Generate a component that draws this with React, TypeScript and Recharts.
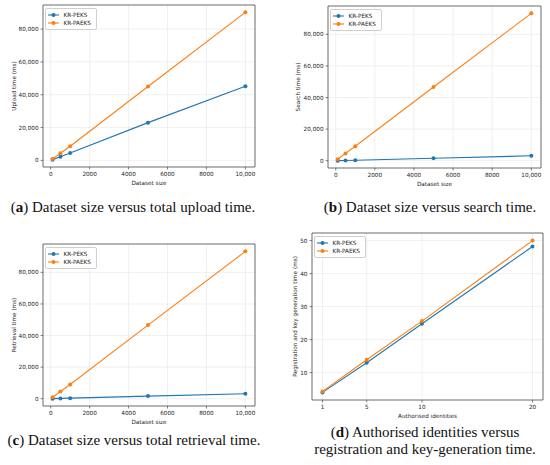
import React from 'react';
import { LineChart, Line, XAxis, YAxis, CartesianGrid, Legend, ReferenceArea } from 'recharts';

const datasetSizes = [100, 500, 1000, 5000, 10000];
const uploadPeks = [450, 2260, 4460, 23000, 45200];
const uploadPaeks = [900, 4300, 8600, 45000, 90200];
const searchPeks = [30, 150, 300, 1500, 3100];
const searchPaeks = [930, 4600, 9100, 46700, 93300];
const retrievalPeks = [40, 180, 350, 1650, 3150];
const retrievalPaeks = [930, 4600, 9000, 46600, 93300];
const identities = [1, 5, 10, 20];
const regPeks = [4.0, 13.0, 24.8, 48.2];
const regPaeks = [4.3, 13.9, 25.6, 50.0];

const seriesNames = ['KR-PEKS', 'KR-PAEKS'];

const sizeTicks = [0, 2000, 4000, 6000, 8000, 10000];
const sizeTickLabels = ['0', '2000', '4000', '6000', '8000', '10,000'];
const timeTicks = [0, 20000, 40000, 60000, 80000];
const timeTickLabels = ['0', '20,000', '40,000', '60,000', '80,000'];
const idTicks = [1, 5, 10, 20];
const idTickLabels = ['1', '5', '10', '20'];
const regTicks = [10, 20, 30, 40, 50];
const regTickLabels = ['10', '20', '30', '40', '50'];

const BLUE = '#1f77b4';
const ORANGE = '#ff7f0e';
const FONT = 'DejaVu Sans';
const FS = 5.7;

const pad = (vals: number[]): [number, number] => {
  const mn = Math.min(...vals);
  const mx = Math.max(...vals);
  const m = (mx - mn) * 0.05;
  return [mn - m, mx + m];
};

const LegendBox = (props: any) => {
  const payload = [...(props.payload || [])].sort(
    (a: any, b: any) => seriesNames.indexOf(a.value) - seriesNames.indexOf(b.value)
  );
  return (
    <div style={{ border: '0.7px solid #cfcfcf', borderRadius: 2, background: 'rgba(255,255,255,0.85)', padding: '1.5px 5px 1.5px 2px', fontFamily: FONT, fontSize: FS, lineHeight: '8.3px', color: '#222' }}>
      {payload.map((e: any) => (
        <div key={e.value} style={{ display: 'flex', alignItems: 'center', whiteSpace: 'nowrap' }}>
          <svg width={11} height={8} style={{ display: 'block' }}>
            <line x1={0} y1={4} x2={11} y2={4} stroke={e.color} strokeWidth={1.1} />
            <circle cx={5.5} cy={4} r={2} fill={e.color} />
          </svg>
          <span style={{ marginLeft: 5 }}>{e.value}</span>
        </div>
      ))}
    </div>
  );
};

type PanelProps = {
  frame: { l: number; r: number; t: number; b: number };
  xs: number[];
  s1: number[];
  s2: number[];
  xTicks: number[];
  xLabels: string[];
  yTicks: number[];
  yLabels: string[];
  xTitle: string;
  yTitle: string;
  yTitleOffset: number;
};

const Panel = ({ frame, xs, s1, s2, xTicks, xLabels, yTicks, yLabels, xTitle, yTitle, yTitleOffset }: PanelProps) => {
  const data = xs.map((x, i) => ({ x, peks: s1[i], paeks: s2[i] }));
  const xDom = pad(xs);
  const yDom = pad([...s1, ...s2]);
  const LM = 40, TM = 5, RM = 8, BM = 24, YW = 28, XH = 22;
  const w = frame.r - frame.l + LM + RM;
  const h = frame.b - frame.t + TM + BM;
  return (
    <div style={{ position: 'absolute', left: frame.l - LM, top: frame.t - TM, width: w, height: h }}>
      <LineChart width={w} height={h} data={data} margin={{ top: TM, right: RM, left: LM - YW, bottom: BM - XH }}>
        <CartesianGrid stroke="#e6e6e6" strokeWidth={0.6} />
        <XAxis
          dataKey="x"
          type="number"
          domain={xDom}
          allowDataOverflow
          ticks={xTicks}
          tickFormatter={(v: number, i: number) => xLabels[i]}
          height={XH}
          axisLine={false}
          tickLine={{ stroke: '#333', strokeWidth: 0.6 }}
          tickSize={2.5}
          tick={{ fontFamily: FONT, fontSize: FS, fill: '#222' }}
          interval={0}
          label={{ value: xTitle, position: 'insideBottom', offset: 4, style: { fontFamily: FONT, fontSize: FS, fill: '#222' } }}
        />
        <YAxis
          type="number"
          domain={yDom}
          allowDataOverflow
          ticks={yTicks}
          tickFormatter={(v: number, i: number) => yLabels[i]}
          width={YW}
          axisLine={false}
          tickLine={{ stroke: '#333', strokeWidth: 0.6 }}
          tickSize={2.5}
          tick={{ fontFamily: FONT, fontSize: FS, fill: '#222' }}
          interval={0}
          label={{ value: yTitle, angle: -90, position: 'insideLeft', offset: yTitleOffset, style: { fontFamily: FONT, fontSize: FS, fill: '#222', textAnchor: 'middle' } }}
        />
        <Legend layout="vertical" align="center" verticalAlign="middle" itemSorter={null as any} content={<LegendBox />} wrapperStyle={{ left: LM + 1.5, top: TM + 3, width: 'auto', height: 'auto' }} />
        <Line dataKey="peks" name={seriesNames[0]} stroke={BLUE} strokeWidth={1.1} dot={{ r: 2, fill: BLUE, stroke: BLUE, strokeWidth: 0 }} isAnimationActive={false} />
        <Line dataKey="paeks" name={seriesNames[1]} stroke={ORANGE} strokeWidth={1.1} dot={{ r: 2, fill: ORANGE, stroke: ORANGE, strokeWidth: 0 }} isAnimationActive={false} />
        <ReferenceArea x1={xDom[0]} x2={xDom[1]} y1={yDom[0]} y2={yDom[1]} fill="none" fillOpacity={0} stroke="#3a3a3a" strokeWidth={0.7} ifOverflow="visible" />
      </LineChart>
    </div>
  );
};

const capStyle: React.CSSProperties = {
  position: 'absolute',
  transform: 'translate(-50%, -50%)',
  whiteSpace: 'nowrap',
  fontFamily: 'Liberation Serif',
  fontSize: 15,
  lineHeight: '15px',
  color: '#111',
  textAlign: 'center',
};

export default function App() {
  return (
    <div style={{ position: 'absolute', left: 0, top: 0, width: 550, height: 465, background: '#fff', overflow: 'hidden' }}>
      <Panel frame={{ l: 43, r: 255, t: 5, b: 167 }} xs={datasetSizes} s1={uploadPeks} s2={uploadPaeks}
        xTicks={sizeTicks} xLabels={sizeTickLabels} yTicks={timeTicks} yLabels={timeTickLabels}
        xTitle="Dataset size" yTitle="Upload time (ms)" yTitleOffset={-1} />
      <Panel frame={{ l: 328, r: 541, t: 6, b: 168 }} xs={datasetSizes} s1={searchPeks} s2={searchPaeks}
        xTicks={sizeTicks} xLabels={sizeTickLabels} yTicks={timeTicks} yLabels={timeTickLabels}
        xTitle="Dataset size" yTitle="Search time (ms)" yTitleOffset={-2} />
      <Panel frame={{ l: 43, r: 255, t: 244, b: 406 }} xs={datasetSizes} s1={retrievalPeks} s2={retrievalPaeks}
        xTicks={sizeTicks} xLabels={sizeTickLabels} yTicks={timeTicks} yLabels={timeTickLabels}
        xTitle="Dataset size" yTitle="Retrieval time (ms)" yTitleOffset={-1} />
      <Panel frame={{ l: 312, r: 543, t: 233, b: 400 }} xs={identities} s1={regPeks} s2={regPaeks}
        xTicks={idTicks} xLabels={idTickLabels} yTicks={regTicks} yLabels={regTickLabels}
        xTitle="Authorised identities" yTitle="Registration and key generation time (ms)" yTitleOffset={11} />
      <div style={{ ...capStyle, left: 133, top: 207 }}>(<b>a</b>) Dataset size versus total upload time.</div>
      <div style={{ ...capStyle, left: 430, top: 207 }}>(<b>b</b>) Dataset size versus search time.</div>
      <div style={{ ...capStyle, left: 134, top: 440 }}>(<b>c</b>) Dataset size versus total retrieval time.</div>
      <div style={{ ...capStyle, left: 425, top: 432.4 }}>(<b>d</b>) Authorised identities versus</div>
      <div style={{ ...capStyle, left: 425, top: 449.4 }}>registration and key-generation time.</div>
    </div>
  );
}
